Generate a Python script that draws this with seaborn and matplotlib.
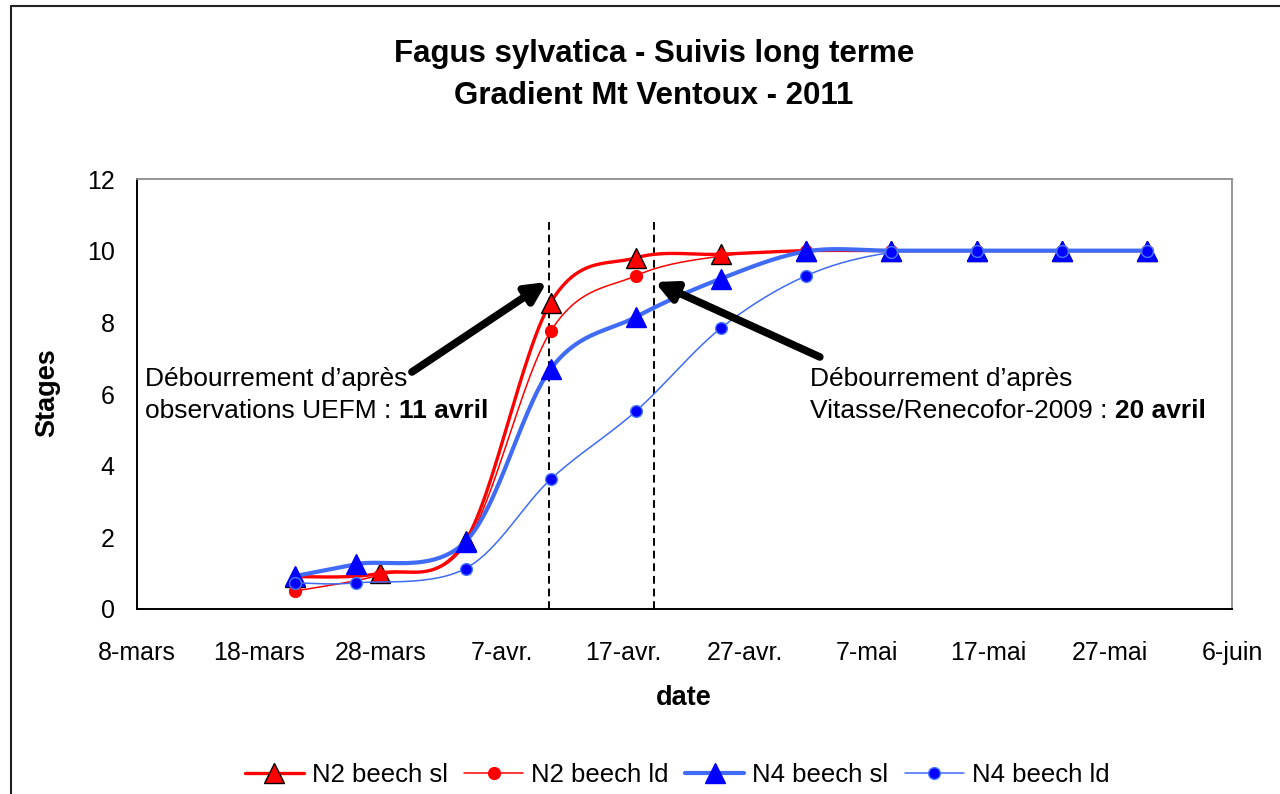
import numpy as np
import pandas as pd
import matplotlib
matplotlib.use("Agg")
import matplotlib.pyplot as plt
import seaborn as sns
from matplotlib.lines import Line2D

# ---------------- data ----------------
dates_n2 = ["2011-03-21", "2011-03-28", "2011-04-04", "2011-04-11", "2011-04-18", "2011-04-25",
            "2011-05-02", "2011-05-09", "2011-05-16", "2011-05-23", "2011-05-30"]
dates_n4 = ["2011-03-21", "2011-03-26", "2011-04-04", "2011-04-11", "2011-04-18", "2011-04-25",
            "2011-05-02", "2011-05-09", "2011-05-16", "2011-05-23", "2011-05-30"]
n2_sl = [0.9, 1.0, 1.9, 8.55, 9.8, 9.9, 10.0, 10.0, 10.0, 10.0, 10.0]
n2_ld = [0.5, 0.95, 1.8, 7.75, 9.3, 9.85, 10.0, 10.0, 10.0, 10.0, 10.0]
n4_sl = [0.92, 1.25, 1.88, 6.7, 8.15, 9.22, 9.98, 10.0, 10.0, 10.0, 10.0]
n4_ld = [0.73, 0.73, 1.13, 3.62, 5.52, 7.84, 9.3, 9.95, 10.0, 10.0, 10.0]
series_names = ["N2 beech sl", "N2 beech ld", "N4 beech sl", "N4 beech ld"]

tick_dates = ["2011-03-08", "2011-03-18", "2011-03-28", "2011-04-07", "2011-04-17",
              "2011-04-27", "2011-05-07", "2011-05-17", "2011-05-27", "2011-06-06"]
tick_labels = ["8-mars", "18-mars", "28-mars", "7-avr.", "17-avr.", "27-avr.",
               "7-mai", "17-mai", "27-mai", "6-juin"]
y_ticks = [0, 2, 4, 6, 8, 10, 12]
budburst_dates = ["2011-04-10 20:00", "2011-04-19 12:00"]

# ---------------- helpers ----------------
origin = pd.Timestamp("2011-03-08")
def to_day(ds):
    return np.array([(pd.Timestamp(d) - origin).total_seconds() / 86400.0 for d in ds])

YS = 35.83 / 12.17  # screen aspect between one stage and one day

def smooth(x, y, n=30):
    """Excel-like smoothed line (cubic Bezier through the points)."""
    x = np.asarray(x, float); y = np.asarray(y, float) * YS
    P = np.column_stack([x, y])
    out = []
    for i in range(len(P) - 1):
        p0 = P[i - 1] if i > 0 else P[i]
        p1 = P[i]; p2 = P[i + 1]
        p3 = P[i + 2] if i + 2 < len(P) else P[i + 1]
        c1 = p1 + (p2 - p0) / 6.0
        c2 = p2 - (p3 - p1) / 6.0
        t = np.linspace(0, 1, n)[:, None]
        seg = (1 - t) ** 3 * p1 + 3 * (1 - t) ** 2 * t * c1 + 3 * (1 - t) * t ** 2 * c2 + t ** 3 * p2
        out.append(seg if i == 0 else seg[1:])
    out = np.vstack(out)
    return out[:, 0], out[:, 1] / YS

# ---------------- style ----------------
sns.set_theme(style="white")
plt.rcParams["font.family"] = ["Liberation Sans", "DejaVu Sans"]
for key in ["text.color", "axes.labelcolor", "xtick.color", "ytick.color"]:
    plt.rcParams[key] = "black"

fig = plt.figure(figsize=(12.8, 7.94), dpi=100)
ax = fig.add_axes([137 / 1280, 1 - 609 / 794, (1232 - 137) / 1280, (609 - 179) / 794])

specs = [
    dict(x=dates_n2, y=n2_sl, lc="#FF0000", lw=2.4, m="^", ms=14, mfc="#FF0000", mec="black", mew=1.0),
    dict(x=dates_n2, y=n2_ld, lc="#FF0000", lw=1.1, m="o", ms=8.5, mfc="#FF0000", mec="#FF0000", mew=1.0),
    dict(x=dates_n4, y=n4_sl, lc="#3F6BF5", lw=3.0, m="^", ms=14, mfc="#0000FF", mec="#0000FF", mew=1.0),
    dict(x=dates_n4, y=n4_ld, lc="#3F6BF5", lw=1.1, m="o", ms=8.5, mfc="#0000FF", mec="#4A7BFF", mew=1.0),
]

handles = []
for k, (name, s) in enumerate(zip(series_names, specs)):
    xd = to_day(s["x"])
    sx, sy = smooth(xd, s["y"])
    df_line = pd.DataFrame({"day": sx, "stage": sy})
    sns.lineplot(data=df_line, x="day", y="stage", ax=ax, color=s["lc"], linewidth=s["lw"],
                 sort=False, estimator=None, zorder=3 + 2 * k)
    ax.plot(xd, s["y"], linestyle="none", marker=s["m"], markersize=s["ms"],
            markerfacecolor=s["mfc"], markeredgecolor=s["mec"], markeredgewidth=s["mew"],
            zorder=4 + 2 * k)
    handles.append(Line2D([], [], color=s["lc"], linewidth=s["lw"], marker=s["m"],
                          markersize=s["ms"], markerfacecolor=s["mfc"],
                          markeredgecolor=s["mec"], markeredgewidth=s["mew"]))

# dashed budburst lines
for d in to_day(budburst_dates):
    ax.plot([d, d], [0, 10.85], color="black", linestyle=(0, (4, 2.5)), linewidth=1.4, zorder=2)

# axes
ax.set_xlim(0, 90)
ax.set_ylim(0, 12)
ax.set_xticks(to_day(tick_dates))
ax.set_xticklabels(tick_labels)
ax.set_yticks(y_ticks)
ax.tick_params(axis="both", labelsize=18, colors="black", direction="out", length=7, width=1.2)
ax.tick_params(axis="x", pad=16)
ax.tick_params(axis="y", pad=9)
for side in ["left", "bottom"]:
    ax.spines[side].set_color("black"); ax.spines[side].set_linewidth(1.4)
for side in ["top", "right"]:
    ax.spines[side].set_color("#8C8C8C"); ax.spines[side].set_linewidth(1.3)
ax.set_xlabel("")
ax.set_ylabel("")
ax.grid(False)

# labels & title
fig.text(47 / 1280, 1 - 393 / 794, "Stages", rotation=90, ha="center", va="center",
         fontsize=19.5, fontweight="bold")
fig.text(684 / 1280, 1 - 698 / 794, "date", ha="center", va="center", fontsize=19.5, fontweight="bold")
fig.text(654 / 1280, 1 - 62 / 794, "Fagus sylvatica - Suivis long terme", ha="center",
         va="baseline", fontsize=22.5, fontweight="bold")
fig.text(654 / 1280, 1 - 104 / 794, "Gradient Mt Ventoux - 2011", ha="center",
         va="baseline", fontsize=22.5, fontweight="bold")

# annotations
def px2data(px, py):
    return ((px - 137) / 12.17, (609 - py) / 35.83)

ax.annotate("", xy=px2data(547, 282), xytext=px2data(412, 372),
            arrowprops=dict(arrowstyle="-|>", lw=5.5, color="black", mutation_scale=30,
                            shrinkA=0, shrinkB=0), zorder=20)
ax.annotate("", xy=px2data(655, 282), xytext=px2data(820, 357),
            arrowprops=dict(arrowstyle="-|>", lw=5.5, color="black", mutation_scale=30,
                            shrinkA=0, shrinkB=0), zorder=20)

fs_ann = 19
t1 = ax.text(*px2data(145, 386), "Débourrement d’après", fontsize=fs_ann, va="baseline", ha="left", zorder=21)
t2 = ax.text(*px2data(145, 418), "observations UEFM : ", fontsize=fs_ann, va="baseline", ha="left", zorder=21)
ax.annotate("11 avril", xy=(1, 0), xycoords=t2, va="bottom", ha="left", fontsize=fs_ann,
            fontweight="bold", zorder=21)
t3 = ax.text(*px2data(810, 386), "Débourrement d’après", fontsize=fs_ann, va="baseline", ha="left", zorder=21)
t4 = ax.text(*px2data(810, 418), "Vitasse/Renecofor-2009 : ", fontsize=fs_ann, va="baseline", ha="left", zorder=21)
ax.annotate("20 avril", xy=(1, 0), xycoords=t4, va="bottom", ha="left", fontsize=fs_ann,
            fontweight="bold", zorder=21)

# legend
fig.legend(handles, series_names, loc="center", bbox_to_anchor=(677 / 1280, 1 - 775 / 794),
           ncol=4, frameon=False, fontsize=18.5, handlelength=2.3, handletextpad=0.3,
           columnspacing=0.65)

# outer chart frame (left + top edges visible)
fig.add_artist(Line2D([11 / 1280, 11 / 1280], [0, 1 - 6 / 794], transform=fig.transFigure,
                      color="#222222", linewidth=1.5))
fig.add_artist(Line2D([11 / 1280, 1], [1 - 6 / 794, 1 - 6 / 794], transform=fig.transFigure,
                      color="#222222", linewidth=1.5))

fig.savefig("out.png", dpi=100, facecolor="white")
